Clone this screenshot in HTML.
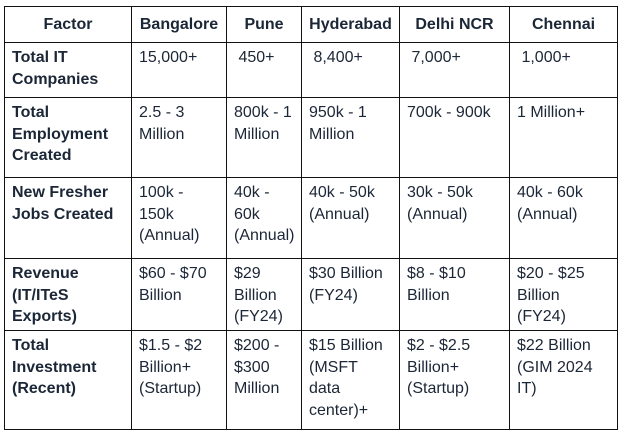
<!DOCTYPE html>
<html><head><meta charset="utf-8"><style>
body{margin:0;width:623px;height:435px;background:#fff;overflow:hidden;font-family:"Liberation Sans",Arial,sans-serif;color:#1b2636}
table{position:absolute;left:4px;top:6px;border-collapse:collapse;table-layout:fixed}
td,th{border:1.5px solid #111;vertical-align:top;padding:4px 4px 0 7px;font-size:16px;line-height:21.5px;text-align:left;white-space:nowrap}
th{text-align:center;vertical-align:middle;padding:0;font-weight:bold}
td.f{font-weight:bold}
</style></head><body>
<table>
<colgroup><col style="width:127px"><col style="width:95px"><col style="width:75px"><col style="width:98px"><col style="width:110px"><col style="width:108px"></colgroup>
<tr style="height:36px"><th>Factor</th><th>Bangalore</th><th>Pune</th><th>Hyderabad</th><th>Delhi NCR</th><th>Chennai</th></tr>
<tr style="height:55px"><td class="f">Total IT<br>Companies</td><td>15,000+</td><td>&nbsp;450+</td><td>&nbsp;8,400+</td><td>&nbsp;7,000+</td><td>&nbsp;1,000+</td></tr>
<tr style="height:80px"><td class="f">Total<br>Employment<br>Created</td><td>2.5 - 3<br>Million</td><td>800k - 1<br>Million</td><td>950k - 1<br>Million</td><td>700k - 900k</td><td>1 Million+</td></tr>
<tr style="height:81px"><td class="f">New Fresher<br>Jobs Created</td><td>100k -<br>150k<br>(Annual)</td><td>40k -<br>60k<br>(Annual)</td><td>40k - 50k<br>(Annual)</td><td>30k - 50k<br>(Annual)</td><td>40k - 60k<br>(Annual)</td></tr>
<tr style="height:72px"><td class="f">Revenue<br>(IT/ITeS<br>Exports)</td><td>$60 - $70<br>Billion</td><td>$29<br>Billion<br>(FY24)</td><td>$30 Billion<br>(FY24)</td><td>$8 - $10<br>Billion</td><td>$20 - $25<br>Billion<br>(FY24)</td></tr>
<tr style="height:99px"><td class="f">Total<br>Investment<br>(Recent)</td><td>$1.5 - $2<br>Billion+<br>(Startup)</td><td>$200 -<br>$300<br>Million</td><td>$15 Billion<br>(MSFT<br>data<br>center)+</td><td>$2 - $2.5<br>Billion+<br>(Startup)</td><td>$22 Billion<br>(GIM 2024<br>IT)</td></tr>
</table>
</body></html>
